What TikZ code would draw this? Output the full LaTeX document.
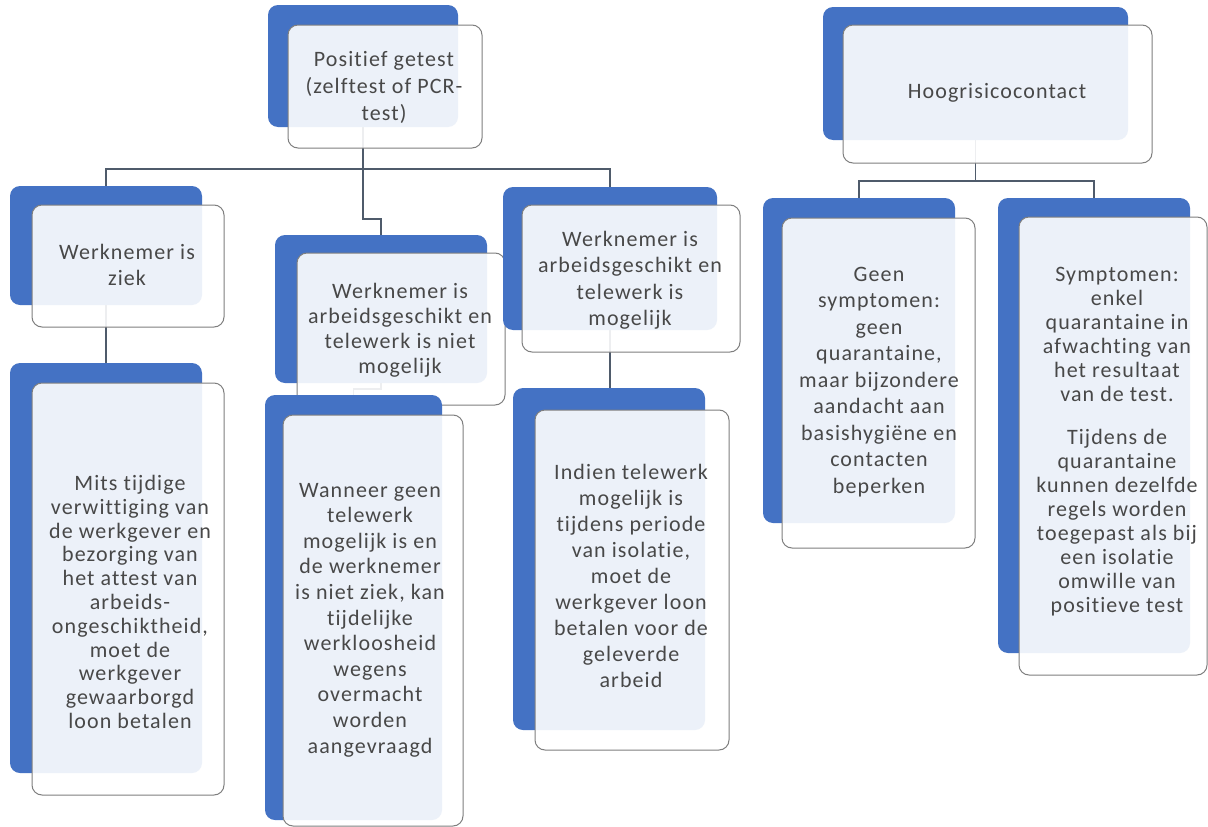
\documentclass[tikz,border=0pt]{standalone}
\usepackage{fontspec}
\setmainfont{Carlito}[LetterSpace=5,Ligatures={NoCommon}]
\usetikzlibrary{positioning,calc}
\definecolor{boxblue}{HTML}{4472C4}
\definecolor{bordergray}{HTML}{7F7F7F}
\definecolor{textgray}{HTML}{484848}
\definecolor{conncol}{HTML}{4F5B6B}
\pgfdeclarelayer{bg}
\pgfdeclarelayer{paper}
\pgfsetlayers{paper,bg,main}
\tikzset{
  blueb/.style={fill=boxblue, draw=none, rounded corners=10pt, inner sep=0pt, outer sep=0pt},
  whiteb/.style={fill=white, fill opacity=0.9, draw=bordergray, line width=1pt, rounded corners=10pt, inner sep=0pt, outer sep=0pt},
  txt/.style={text=textgray, align=center, inner sep=0pt, font=\fontsize{22}{#1}\selectfont},
  txt/.default=25,
  conn/.style={draw=conncol, line width=1.3pt}
}
\newcommand{\boxpair}[9]{%
  \node[blueb, minimum width=#4pt, minimum height=#5pt] (#1b) at (#2,#3) {};
  \node[whiteb, minimum width=#8pt, minimum height=#9pt] (#1w) at (#6,#7) {};
}
\begin{document}
\begin{tikzpicture}[x=1pt,y=-1pt]
\begin{pgfonlayer}{paper}
\fill[white] (0,0) rectangle (1208,827);
\end{pgfonlayer}
\useasboundingbox (0,0) rectangle (1208,827);

% Root: Positief getest
\boxpair{root}{363}{66}{190}{122}{385}{86.5}{194}{123}
\node[txt=27] (roott) at (384,87) {Positief getest\\(zelftest of PCR-\\test)};

% Hoogrisicocontact
\boxpair{hoog}{975.5}{73.5}{305}{133}{997.5}{94}{309}{138}
\node[txt] (hoogt) at (997,93) {Hoogrisicocontact};

% Child 1
\boxpair{ca}{106}{245.5}{192}{119}{128}{266}{192}{122}
\node[txt=26] (cat) at (127,265) {Werknemer is\\ziek};

% Grandchild 1
\boxpair{ga}{106}{568}{192}{410}{128}{589}{192}{412}
\node[txt=23.8] (gat) at (130,602) {Mits tijdige\\verwittiging van\\de werkgever en\\bezorging van\\het attest van\\arbeids-\\ongeschiktheid,\\moet de\\werkgever\\gewaarborgd\\loon betalen};

% Child 2
\boxpair{cb}{381}{309}{212}{148}{401}{329}{208}{152}
\node[txt=25] (cbt) at (400,330) {Werknemer is\\arbeidsgeschikt en\\telewerk is niet\\mogelijk};

% Grandchild 2
\boxpair{gb}{353.5}{607.5}{177}{425}{373}{620.5}{180}{411}
\node[txt=25.6] (gbt) at (370,620) {Wanneer geen\\telewerk\\mogelijk is en\\de werknemer\\is niet ziek, kan\\tijdelijke\\werkloosheid\\wegens\\overmacht\\worden\\aangevraagd};

% Child 3
\boxpair{cc}{610}{258.5}{214}{143}{631}{278.5}{218}{147}
\node[txt=26.5] (cct) at (630,280) {Werknemer is\\arbeidsgeschikt en\\telewerk is\\mogelijk};

% Grandchild 3
\boxpair{gc}{609}{559}{192}{342}{632}{580}{194}{340}
\node[txt=26] (gct) at (631,576) {Indien telewerk\\mogelijk is\\tijdens periode\\van isolatie,\\moet de\\werkgever loon\\betalen voor de\\geleverde\\arbeid};

% Geen symptomen
\boxpair{cd}{859}{360.5}{192}{325}{878.5}{383}{193}{330}
\node[txt=26.5] (cdt) at (879,382) {Geen\\symptomen:\\geen\\quarantaine,\\maar bijzondere\\aandacht aan\\basishygiëne en\\contacten\\beperken};

% Symptomen
\boxpair{ce}{1094}{425.5}{192}{455}{1113}{446}{188}{458}
\node[txt=24] (cet) at (1117,442) {Symptomen:\\enkel\\quarantaine in\\afwachting van\\het resultaat\\van de test.\\[19pt]Tijdens de\\quarantaine\\kunnen dezelfde\\regels worden\\toegepast als bij\\een isolatie\\omwille van\\positieve test};

% Connectors
\begin{pgfonlayer}{bg}
\coordinate (rj) at ($(rootb.south)+(0,42)$);
\draw[conn] (rootb.south) -- (rj) -| (cab.north);
\draw[conn] (rj) -| (ccb.north);
\draw[conn] (rj) -- ++(0,50) -| (cbb.north);
\draw[conn] (cab.south) -- (gab.north);
\draw[conn] (ccb.south) -- (ccb.south |- gcb.north);
\draw[conn] (cbb.south) -- ++(0,6) -| (gbb.north);
\coordinate (hj) at ($(hoogb.south)+(0,41)$);
\draw[conn] (hoogb.south) -- (hj) -| (cdb.north);
\draw[conn] (hj) -| (ceb.north);
\end{pgfonlayer}
\end{tikzpicture}
\end{document}
